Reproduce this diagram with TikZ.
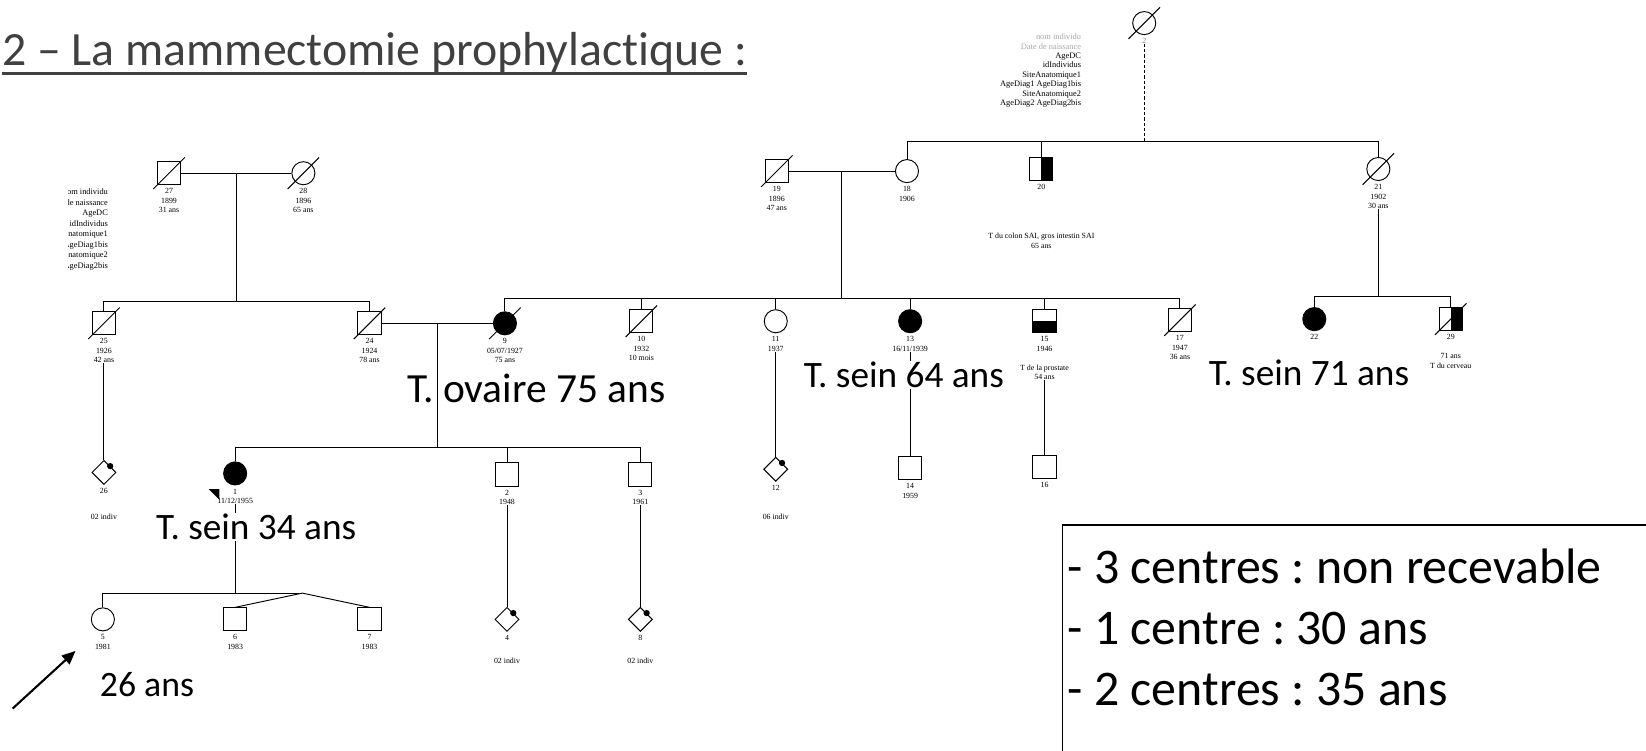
\documentclass[tikz,border=0pt]{standalone}
\usepackage{fontspec}
\setmainfont{Carlito}[Ligatures={NoCommon,NoContextual}]
\newfontfamily\scanfont{Liberation Serif}
\usetikzlibrary{arrows.meta,positioning,shapes.geometric,calc}
\definecolor{slidegray}{HTML}{404040}
\newcommand{\deceased}[1]{\draw[ped] ($(#1.center)+(-15,15)$) -- ($(#1.center)+(15,-15)$);}
\newcommand{\carrier}[1]{\fill ($(#1.north)!0.5!(#1.east)$) circle (3pt);}

\begin{document}
\frenchspacing
\begin{tikzpicture}[x=1pt,y=-1pt,
  ped/.style={line width=0.9pt},
  male/.style={draw,rectangle,minimum size=22pt,inner sep=0pt,ped},
  female/.style={draw,circle,minimum size=22pt,inner sep=0pt,ped},
  unknown/.style={draw,diamond,minimum width=23pt,minimum height=23pt,inner sep=0pt,ped},
  affected/.style={fill=black},
  halfright/.style={path picture={\fill (path picture bounding box.north) rectangle (path picture bounding box.south east);}},
  halfbottom/.style={path picture={\fill (path picture bounding box.west) rectangle (path picture bounding box.south east);}},
  idlabel/.style={font=\scanfont\fontsize{7.5}{9}\selectfont,align=center,inner sep=0pt,anchor=north},
  legend/.style={font=\scanfont\fontsize{8}{9}\selectfont,align=right,inner sep=0pt,anchor=north east},
  tumour/.style={font=\fontsize{35.5}{40}\selectfont,inner sep=1pt,fill=white},
  criteria/.style={font=\fontsize{47.5}{58}\selectfont,align=left,inner sep=0pt,anchor=north west},
  slidetitle/.style={font=\fontsize{45.5}{50}\selectfont,text=slidegray,inner sep=0pt,anchor=base west}
]
\useasboundingbox (0,0) rectangle (1568,715);
\clip (0,0) rectangle (1568,715);

%--- title ---
\node[slidetitle] (title) at (2,62) {2 -- La mammectomie prophylactique :};
\draw[slidegray,line width=2pt] ([yshift=-8pt]title.base west) -- ([yshift=-8pt]title.base east);

%--- field legends of the scanned tree ---
\node[legend] (legendR) at (1030,32) {\textcolor{gray!70}{nom individu}\\\textcolor{gray!70}{Date de naissance}\\AgeDC\\idIndividus\\SiteAnatomique1\\AgeDiag1 AgeDiag1bis\\SiteAnatomique2\\AgeDiag2 AgeDiag2bis};
\begin{scope}
  \clip (65,170) rectangle (120,270);
  \node[legend,font=\scanfont\fontsize{8}{10}\selectfont] (legendL) at (103,180) {nom individu\\Date de naissance\\AgeDC\\idIndividus\\SiteAnatomique1\\AgeDiag1 AgeDiag1bis\\SiteAnatomique2\\AgeDiag2 AgeDiag2bis};
\end{scope}

%--- generation I ---
\node[female] (p0) at (1090,22) {}; \deceased{p0}
\node[idlabel,text=gray] (l0) at ([yshift=-3pt]p0.south) {2};
\node[male] (p19) at (740,163) {}; \deceased{p19}
\node[female] (p18) at (864,163) {};
\node[male,halfright] (p20) at (992,161) {};
\node[female] (p21) at (1313,161) {}; \deceased{p21}
\node[male] (p27) at (161,165) {}; \deceased{p27}
\node[female] (p28) at (289,165) {}; \deceased{p28}

\node[idlabel] (l19) at ([yshift=-3pt]p19.south) {19\\1896\\47 ans};
\node[idlabel] (l18) at ([yshift=-3pt]p18.south) {18\\1906};
\node[idlabel] (l20) at ([yshift=-3pt]p20.south) {20};
\node[idlabel] (l21) at ([yshift=-3pt]p21.south) {21\\1902\\30 ans};
\node[idlabel] (l27) at ([yshift=-3pt]p27.south) {27\\1899\\31 ans};
\node[idlabel] (l28) at ([yshift=-3pt]p28.south) {28\\1896\\65 ans};
\node[idlabel] (note20) at (992,222) {T du colon SAI, gros intestin SAI\\65 ans};

\coordinate (s1) at (0,135);
\draw[ped] (p18.north) -- (p18.north |- s1) -- (p21.north |- s1) -- (p21.north);
\draw[ped] (p20.north) -- (p20.north |- s1);
\draw[ped,densely dashed] (l0.south) -- (l0.south |- s1);
\draw[ped] (p19.east) -- (p18.west);
\coordinate (m19) at ($(p19.east)!0.5!(p18.west)$);
\draw[ped] (p27.east) -- (p28.west);
\coordinate (m27) at ($(p27.east)!0.5!(p28.west)$);

%--- generation II ---
\node[male] (p25) at (99,308) {}; \deceased{p25}
\node[male] (p24) at (352,308) {}; \deceased{p24}
\node[female,affected] (p9) at (481,308) {}; \deceased{p9}
\node[male] (p10) at (611,306) {}; \deceased{p10}
\node[female] (p11) at (739,306) {};
\node[female,affected] (p13) at (867,306) {};
\node[male,halfbottom] (p15) at (995,306) {};
\node[male] (p17) at (1124,305) {}; \deceased{p17}
\node[female,affected] (p22) at (1252,304) {};
\node[male,halfright] (p29) at (1382,304) {}; \deceased{p29}

\node[idlabel] (l25) at ([yshift=-3pt]p25.south) {25\\1926\\42 ans};
\node[idlabel] (l24) at ([yshift=-3pt]p24.south) {24\\1924\\78 ans};
\node[idlabel] (l9) at ([yshift=-3pt]p9.south) {9\\05/07/1927\\75 ans};
\node[idlabel] (l10) at ([yshift=-3pt]p10.south) {10\\1932\\10 mois};
\node[idlabel] (l11) at ([yshift=-3pt]p11.south) {11\\1937};
\node[idlabel] (l13) at ([yshift=-3pt]p13.south) {13\\16/11/1939};
\node[idlabel] (l15) at ([yshift=-3pt]p15.south) {15\\1946\\[9pt]T de la prostate\\54 ans};
\node[idlabel] (l17) at ([yshift=-3pt]p17.south) {17\\1947\\36 ans};
\node[idlabel] (l22) at ([yshift=-3pt]p22.south) {22};
\node[idlabel] (l29) at ([yshift=-3pt]p29.south) {29\\[9pt]71 ans\\T du cerveau};

\coordinate (s2) at (0,287);
\draw[ped] (p25.north) -- (p25.north |- s2) -- (p24.north |- s2) -- (p24.north);
\draw[ped] (m27) -- (m27 |- s2);
\coordinate (s3) at (0,284);
\draw[ped] (p9.north) -- (p9.north |- s3) -- (p17.north |- s3) -- (p17.north);
\foreach \k in {10,11,13,15} {\draw[ped] (p\k.north) -- (p\k.north |- s3);}
\draw[ped] (m19) -- (m19 |- s3);
\coordinate (s4) at (0,282);
\draw[ped] (p22.north) -- (p22.north |- s4) -- (p29.north |- s4) -- (p29.north);
\draw[ped] (l21.south) -- (l21.south |- s4);
\draw[ped] (p24.east) -- (p9.west);
\coordinate (m24) at ($(p24.east)!0.5!(p9.west)$);

%--- generation III ---
\node[female,affected] (p1) at (224,451) {};
\node[male] (p2) at (483,452) {};
\node[male] (p3) at (610,452) {};
\node[unknown] (p26) at (99,450) {}; \carrier{p26}
\node[unknown] (p12) at (739,447) {}; \carrier{p12}
\node[male] (p14) at (867,446) {};
\node[male] (p16) at (995,445) {};

\node[idlabel] (l1) at ([yshift=-3pt]p1.south) {1\\11/12/1955};
\node[idlabel] (l2) at ([yshift=-3pt]p2.south) {2\\1948};
\node[idlabel] (l3) at ([yshift=-3pt]p3.south) {3\\1961};
\node[idlabel] (l26) at ([yshift=-3pt]p26.south) {26};
\node[idlabel] (l12) at ([yshift=-3pt]p12.south) {12};
\node[idlabel] (l14) at ([yshift=-3pt]p14.south) {14\\1959};
\node[idlabel] (l16) at ([yshift=-3pt]p16.south) {16};
\node[idlabel] (n26) at (99,489) {02 indiv};
\node[idlabel] (n12) at (739,489) {06 indiv};
% proband mark
\fill (199,466) -- (209,466) -- (209,476) -- cycle;

\coordinate (s5) at (0,426);
\draw[ped] (p1.north) -- (p1.north |- s5) -- (p3.north |- s5) -- (p3.north);
\draw[ped] (p2.north) -- (p2.north |- s5);
\draw[ped] (m24) -- (m24 |- s5);
\draw[ped] (l25.south) -- (p26.north);
\draw[ped] (l11.south) -- (p12.north);
\draw[ped] (l13.south) -- (p14.north);
\draw[ped] (l15.south) -- (p16.north);

%--- generation IV ---
\node[female] (p5) at (98,590) {};
\node[male] (p6) at (224,590) {};
\node[male] (p7) at (352,590) {};
\node[unknown] (p4) at (483,590) {}; \carrier{p4}
\node[unknown] (p8) at (610,590) {}; \carrier{p8}

\node[idlabel] (l5) at ([yshift=-3pt]p5.south) {5\\1981};
\node[idlabel] (l6) at ([yshift=-3pt]p6.south) {6\\1983};
\node[idlabel] (l7) at ([yshift=-3pt]p7.south) {7\\1983};
\node[idlabel] (l4) at ([yshift=-3pt]p4.south) {4};
\node[idlabel] (l8) at ([yshift=-3pt]p8.south) {8};
\node[idlabel] (n4) at (483,627) {02 indiv};
\node[idlabel] (n8) at (610,627) {02 indiv};

\coordinate (s6) at (0,565);
\coordinate (tw) at (288,565);
\draw[ped] (p5.north) -- (p5.north |- s6) -- (tw);
\draw[ped] (tw) -- (p6.north);
\draw[ped] (tw) -- (p7.north);
\draw[ped] (l1.south) -- (l1.south |- s6);
\draw[ped] (l2.south) -- (p4.north);
\draw[ped] (l3.south) -- (p8.north);

%--- tumour annotations ---
\node[tumour,fill=none,font=\fontsize{39.5}{44}\selectfont] (t9) at (511,370) {T. ovaire 75 ans};
\node[tumour] (t13) at (861,357) {T. sein 64 ans};
\node[tumour] (t22) at (1247,355) {T. sein 71 ans};
\node[tumour] (t1) at (244,502) {T. sein 34 ans};
\node[tumour,font=\fontsize{34}{40}\selectfont] (t5) at (140,652) {26 ans};
\coordinate (arrtail) at (12,675);
\coordinate (arrtip) at (72,620);
\draw[-{Triangle[length=13pt,width=11pt]},line width=2pt] (arrtail) -- (arrtip);

%--- criteria box ---
\draw[line width=1.6pt] (1012,740) -- (1012,500) -- (1600,500);
\node[criteria] (crit) at (1017,523) {- 3 centres : non recevable\\- 1 centre : 30 ans\\- 2 centres : 35 ans};
\end{tikzpicture}
\end{document}
